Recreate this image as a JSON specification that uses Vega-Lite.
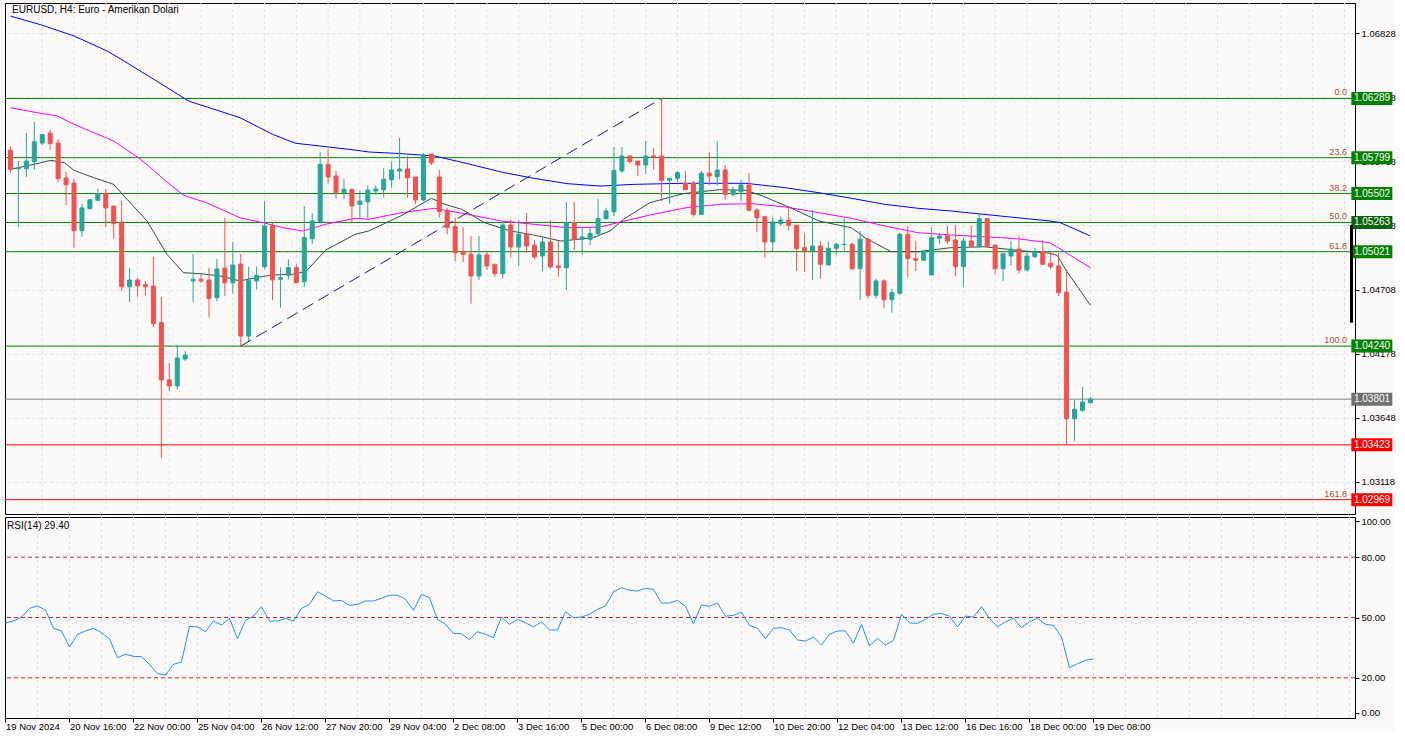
{
"$schema": "https://vega.github.io/schema/vega-lite/v6.json",
"background": "#fcf9f9",
"padding": {"left": 2, "top": 2, "right": 0, "bottom": 0},
"spacing": 0,
"config": {
 "font": "Liberation Sans",
 "view": {"stroke": "#000000", "strokeWidth": 1, "fill": "#fcf9f9"},
 "axis": {"labelFont": "Liberation Sans", "labelFontSize": 9.5, "labelColor": "#000000", "domainColor": "#000000", "tickColor": "#000000", "gridColor": "#e3dfe6", "gridDash": [3,3]}
},
"datasets": {
 "candles": [
{"i":0,"o":1.05860,"h":1.05896,"l":1.05672,"c":1.05703},
{"i":1,"o":1.05708,"h":1.05771,"l":1.05225,"c":1.05713},
{"i":2,"o":1.05708,"h":1.06003,"l":1.05639,"c":1.05771},
{"i":3,"o":1.05766,"h":1.06094,"l":1.05697,"c":1.05931},
{"i":4,"o":1.05920,"h":1.05997,"l":1.05901,"c":1.05989},
{"i":5,"o":1.06003,"h":1.06030,"l":1.05865,"c":1.05915},
{"i":6,"o":1.05920,"h":1.05953,"l":1.05592,"c":1.05625},
{"i":7,"o":1.05631,"h":1.05683,"l":1.05407,"c":1.05575},
{"i":8,"o":1.05589,"h":1.05620,"l":1.05054,"c":1.05195},
{"i":9,"o":1.05195,"h":1.05418,"l":1.05143,"c":1.05383},
{"i":10,"o":1.05377,"h":1.05459,"l":1.05372,"c":1.05451},
{"i":11,"o":1.05446,"h":1.05540,"l":1.05440,"c":1.05501},
{"i":12,"o":1.05501,"h":1.05540,"l":1.05228,"c":1.05383},
{"i":13,"o":1.05399,"h":1.05399,"l":1.05129,"c":1.05253},
{"i":14,"o":1.05261,"h":1.05440,"l":1.04696,"c":1.04731},
{"i":15,"o":1.04731,"h":1.04889,"l":1.04607,"c":1.04787},
{"i":16,"o":1.04787,"h":1.04806,"l":1.04649,"c":1.04737},
{"i":17,"o":1.04748,"h":1.04779,"l":1.04660,"c":1.04731},
{"i":18,"o":1.04737,"h":1.04980,"l":1.04398,"c":1.04425},
{"i":19,"o":1.04434,"h":1.04646,"l":1.03314,"c":1.03960},
{"i":20,"o":1.03960,"h":1.04100,"l":1.03868,"c":1.03910},
{"i":21,"o":1.03910,"h":1.04249,"l":1.03880,"c":1.04141},
{"i":22,"o":1.04133,"h":1.04199,"l":1.04117,"c":1.04166},
{"i":23,"o":1.04779,"h":1.05002,"l":1.04607,"c":1.04793},
{"i":24,"o":1.04793,"h":1.04836,"l":1.04762,"c":1.04779},
{"i":25,"o":1.04787,"h":1.04889,"l":1.04475,"c":1.04635},
{"i":26,"o":1.04640,"h":1.04961,"l":1.04613,"c":1.04878},
{"i":27,"o":1.04884,"h":1.05302,"l":1.04654,"c":1.04764},
{"i":28,"o":1.04764,"h":1.05101,"l":1.04673,"c":1.04911},
{"i":29,"o":1.04919,"h":1.05002,"l":1.04240,"c":1.04323},
{"i":30,"o":1.04323,"h":1.04897,"l":1.04282,"c":1.04784},
{"i":31,"o":1.04779,"h":1.04897,"l":1.04710,"c":1.04826},
{"i":32,"o":1.04897,"h":1.05440,"l":1.04875,"c":1.05234},
{"i":33,"o":1.05234,"h":1.05261,"l":1.04621,"c":1.04787},
{"i":34,"o":1.04793,"h":1.04889,"l":1.04558,"c":1.04806},
{"i":35,"o":1.04826,"h":1.04958,"l":1.04793,"c":1.04889},
{"i":36,"o":1.04889,"h":1.04917,"l":1.04764,"c":1.04764},
{"i":37,"o":1.04773,"h":1.05399,"l":1.04731,"c":1.05137},
{"i":38,"o":1.05129,"h":1.05339,"l":1.05082,"c":1.05275},
{"i":39,"o":1.05269,"h":1.05846,"l":1.05269,"c":1.05744},
{"i":40,"o":1.05744,"h":1.05873,"l":1.05584,"c":1.05639},
{"i":41,"o":1.05647,"h":1.05689,"l":1.05459,"c":1.05509},
{"i":42,"o":1.05509,"h":1.05620,"l":1.05454,"c":1.05537},
{"i":43,"o":1.05537,"h":1.05537,"l":1.05261,"c":1.05399},
{"i":44,"o":1.05413,"h":1.05523,"l":1.05294,"c":1.05440},
{"i":45,"o":1.05434,"h":1.05570,"l":1.05294,"c":1.05531},
{"i":46,"o":1.05523,"h":1.05570,"l":1.05490,"c":1.05540},
{"i":47,"o":1.05534,"h":1.05711,"l":1.05468,"c":1.05620},
{"i":48,"o":1.05616,"h":1.05766,"l":1.05550,"c":1.05697},
{"i":49,"o":1.05689,"h":1.05964,"l":1.05620,"c":1.05705},
{"i":50,"o":1.05705,"h":1.05813,"l":1.05468,"c":1.05633},
{"i":51,"o":1.05639,"h":1.05639,"l":1.05416,"c":1.05449},
{"i":52,"o":1.05449,"h":1.05838,"l":1.05440,"c":1.05819},
{"i":53,"o":1.05829,"h":1.05829,"l":1.05738,"c":1.05757},
{"i":54,"o":1.05639,"h":1.05697,"l":1.05302,"c":1.05352},
{"i":55,"o":1.05358,"h":1.05385,"l":1.05165,"c":1.05220},
{"i":56,"o":1.05228,"h":1.05302,"l":1.04944,"c":1.05013},
{"i":57,"o":1.05018,"h":1.05225,"l":1.04936,"c":1.04999},
{"i":58,"o":1.04999,"h":1.05151,"l":1.04591,"c":1.04820},
{"i":59,"o":1.04820,"h":1.05151,"l":1.04787,"c":1.04994},
{"i":60,"o":1.04994,"h":1.05025,"l":1.04870,"c":1.04903},
{"i":61,"o":1.04917,"h":1.04917,"l":1.04814,"c":1.04839},
{"i":62,"o":1.04839,"h":1.05269,"l":1.04798,"c":1.05242},
{"i":63,"o":1.05242,"h":1.05289,"l":1.04971,"c":1.05060},
{"i":64,"o":1.05060,"h":1.05283,"l":1.04903,"c":1.05165},
{"i":65,"o":1.05165,"h":1.05339,"l":1.05013,"c":1.05068},
{"i":66,"o":1.05074,"h":1.05115,"l":1.04958,"c":1.04977},
{"i":67,"o":1.04985,"h":1.05137,"l":1.04861,"c":1.05101},
{"i":68,"o":1.05101,"h":1.05283,"l":1.04884,"c":1.04894},
{"i":69,"o":1.04903,"h":1.05109,"l":1.04814,"c":1.04889},
{"i":70,"o":1.04889,"h":1.05432,"l":1.04704,"c":1.05261},
{"i":71,"o":1.05261,"h":1.05432,"l":1.05035,"c":1.05124},
{"i":72,"o":1.05124,"h":1.05219,"l":1.04994,"c":1.05143},
{"i":73,"o":1.05124,"h":1.05219,"l":1.05076,"c":1.05173},
{"i":74,"o":1.05170,"h":1.05459,"l":1.05159,"c":1.05297},
{"i":75,"o":1.05294,"h":1.05385,"l":1.05289,"c":1.05358},
{"i":76,"o":1.05352,"h":1.05887,"l":1.05316,"c":1.05694},
{"i":77,"o":1.05689,"h":1.05887,"l":1.05675,"c":1.05813},
{"i":78,"o":1.05813,"h":1.05813,"l":1.05749,"c":1.05766},
{"i":79,"o":1.05771,"h":1.05771,"l":1.05647,"c":1.05738},
{"i":80,"o":1.05738,"h":1.05937,"l":1.05666,"c":1.05813},
{"i":81,"o":1.05813,"h":1.05881,"l":1.05697,"c":1.05804},
{"i":82,"o":1.05813,"h":1.06289,"l":1.05440,"c":1.05612},
{"i":83,"o":1.05612,"h":1.05628,"l":1.05413,"c":1.05628},
{"i":84,"o":1.05628,"h":1.05689,"l":1.05600,"c":1.05675},
{"i":85,"o":1.05587,"h":1.05689,"l":1.05534,"c":1.05534},
{"i":86,"o":1.05587,"h":1.05606,"l":1.05311,"c":1.05330},
{"i":87,"o":1.05330,"h":1.05689,"l":1.05324,"c":1.05670},
{"i":88,"o":1.05670,"h":1.05846,"l":1.05570,"c":1.05647},
{"i":89,"o":1.05641,"h":1.05937,"l":1.05564,"c":1.05697},
{"i":90,"o":1.05697,"h":1.05738,"l":1.05454,"c":1.05496},
{"i":91,"o":1.05496,"h":1.05559,"l":1.05476,"c":1.05529},
{"i":92,"o":1.05517,"h":1.05614,"l":1.05440,"c":1.05573},
{"i":93,"o":1.05573,"h":1.05675,"l":1.05363,"c":1.05363},
{"i":94,"o":1.05366,"h":1.05380,"l":1.05186,"c":1.05302},
{"i":95,"o":1.05311,"h":1.05311,"l":1.04971,"c":1.05101},
{"i":96,"o":1.05101,"h":1.05311,"l":1.05027,"c":1.05267},
{"i":97,"o":1.05253,"h":1.05311,"l":1.05234,"c":1.05283},
{"i":98,"o":1.05283,"h":1.05393,"l":1.05198,"c":1.05240},
{"i":99,"o":1.05240,"h":1.05240,"l":1.04861,"c":1.05046},
{"i":100,"o":1.05054,"h":1.05173,"l":1.04853,"c":1.05027},
{"i":101,"o":1.05027,"h":1.05366,"l":1.04787,"c":1.05068},
{"i":102,"o":1.05068,"h":1.05109,"l":1.04798,"c":1.04917},
{"i":103,"o":1.04911,"h":1.05105,"l":1.04911,"c":1.05049},
{"i":104,"o":1.05049,"h":1.05095,"l":1.04994,"c":1.05082},
{"i":105,"o":1.05081,"h":1.05302,"l":1.05027,"c":1.05082},
{"i":106,"o":1.05082,"h":1.05095,"l":1.04870,"c":1.04880},
{"i":107,"o":1.04880,"h":1.05192,"l":1.04621,"c":1.05124},
{"i":108,"o":1.05124,"h":1.05137,"l":1.04635,"c":1.04660},
{"i":109,"o":1.04660,"h":1.04798,"l":1.04632,"c":1.04779},
{"i":110,"o":1.04779,"h":1.04793,"l":1.04553,"c":1.04624},
{"i":111,"o":1.04624,"h":1.04715,"l":1.04516,"c":1.04682},
{"i":112,"o":1.04677,"h":1.05178,"l":1.04663,"c":1.05165},
{"i":113,"o":1.05165,"h":1.05234,"l":1.04806,"c":1.04963},
{"i":114,"o":1.04963,"h":1.05109,"l":1.04861,"c":1.04950},
{"i":115,"o":1.04950,"h":1.05035,"l":1.04944,"c":1.05027},
{"i":116,"o":1.04828,"h":1.05225,"l":1.04828,"c":1.05137},
{"i":117,"o":1.05132,"h":1.05178,"l":1.05087,"c":1.05151},
{"i":118,"o":1.05151,"h":1.05234,"l":1.05087,"c":1.05109},
{"i":119,"o":1.05118,"h":1.05240,"l":1.04820,"c":1.04897},
{"i":120,"o":1.04897,"h":1.05137,"l":1.04731,"c":1.05109},
{"i":121,"o":1.05109,"h":1.05234,"l":1.05049,"c":1.05068},
{"i":122,"o":1.05062,"h":1.05339,"l":1.05062,"c":1.05294},
{"i":123,"o":1.05294,"h":1.05294,"l":1.05062,"c":1.05062},
{"i":124,"o":1.05076,"h":1.05076,"l":1.04839,"c":1.04880},
{"i":125,"o":1.04880,"h":1.05004,"l":1.04779,"c":1.05004},
{"i":126,"o":1.04985,"h":1.05109,"l":1.04903,"c":1.05043},
{"i":127,"o":1.05043,"h":1.05151,"l":1.04839,"c":1.04870},
{"i":128,"o":1.04870,"h":1.05027,"l":1.04856,"c":1.04985},
{"i":129,"o":1.04979,"h":1.05054,"l":1.04971,"c":1.05018},
{"i":130,"o":1.05018,"h":1.05118,"l":1.04911,"c":1.04917},
{"i":131,"o":1.04925,"h":1.05018,"l":1.04878,"c":1.04897},
{"i":132,"o":1.04903,"h":1.05013,"l":1.04654,"c":1.04682},
{"i":133,"o":1.04687,"h":1.04875,"l":1.03423,"c":1.03639},
{"i":134,"o":1.03639,"h":1.03794,"l":1.03455,"c":1.03717},
{"i":135,"o":1.03709,"h":1.03901,"l":1.03697,"c":1.03777},
{"i":136,"o":1.03771,"h":1.03819,"l":1.03766,"c":1.03801}
 ],
 "ma": [
{"s":"a","i":0,"v":1.06971},{"s":"a","i":3.9,"v":1.06897},{"s":"a","i":8,"v":1.06806},{"s":"a","i":12.2,"v":1.06681},{"s":"a","i":14.3,"v":1.06599},{"s":"a","i":18.4,"v":1.06433},{"s":"a","i":22.4,"v":1.06268},{"s":"a","i":28.9,"v":1.0613},{"s":"a","i":33,"v":1.05992},{"s":"a","i":35.9,"v":1.05918},{"s":"a","i":39.7,"v":1.0589},{"s":"a","i":43.4,"v":1.05862},{"s":"a","i":45.1,"v":1.05846},{"s":"a","i":49.3,"v":1.05832},{"s":"a","i":53.4,"v":1.05813},{"s":"a","i":57.6,"v":1.05749},{"s":"a","i":61.8,"v":1.0568},{"s":"a","i":65.9,"v":1.05628},{"s":"a","i":70.1,"v":1.05584},{"s":"a","i":74.3,"v":1.05564},{"s":"a","i":78.4,"v":1.05578},{"s":"a","i":84.7,"v":1.05587},{"s":"a","i":92.6,"v":1.05587},{"s":"a","i":97.6,"v":1.0555},{"s":"a","i":101.8,"v":1.05509},{"s":"a","i":105.9,"v":1.05463},{"s":"a","i":110.1,"v":1.05413},{"s":"a","i":114.3,"v":1.0538},{"s":"a","i":118.4,"v":1.05358},{"s":"a","i":122.6,"v":1.0533},{"s":"a","i":126.8,"v":1.05302},{"s":"a","i":130.9,"v":1.05275},{"s":"a","i":132.2,"v":1.05261},{"s":"a","i":136,"v":1.05151},
{"s":"b","i":0,"v":1.06212},{"s":"b","i":3.8,"v":1.06166},{"s":"b","i":5.9,"v":1.06144},{"s":"b","i":8,"v":1.06075},{"s":"b","i":10.5,"v":1.06006},{"s":"b","i":13,"v":1.05937},{"s":"b","i":16.4,"v":1.05785},{"s":"b","i":19.3,"v":1.0562},{"s":"b","i":21.8,"v":1.05488},{"s":"b","i":24.7,"v":1.05426},{"s":"b","i":28.9,"v":1.05302},{"s":"b","i":31.8,"v":1.05261},{"s":"b","i":34.3,"v":1.0522},{"s":"b","i":36.8,"v":1.05192},{"s":"b","i":39.7,"v":1.05248},{"s":"b","i":43.4,"v":1.05297},{"s":"b","i":45.1,"v":1.05289},{"s":"b","i":49.3,"v":1.05344},{"s":"b","i":53.4,"v":1.0538},{"s":"b","i":57.6,"v":1.0533},{"s":"b","i":61.8,"v":1.05275},{"s":"b","i":65.9,"v":1.05248},{"s":"b","i":70.1,"v":1.05219},{"s":"b","i":74.3,"v":1.05225},{"s":"b","i":76.8,"v":1.05267},{"s":"b","i":80.5,"v":1.05324},{"s":"b","i":85.1,"v":1.05385},{"s":"b","i":89.3,"v":1.05413},{"s":"b","i":93.4,"v":1.05418},{"s":"b","i":97.6,"v":1.05391},{"s":"b","i":101.8,"v":1.05344},{"s":"b","i":105.9,"v":1.05297},{"s":"b","i":110.1,"v":1.05234},{"s":"b","i":114.3,"v":1.05178},{"s":"b","i":118.4,"v":1.05159},{"s":"b","i":122.6,"v":1.05145},{"s":"b","i":126.8,"v":1.05128},{"s":"b","i":130.9,"v":1.05095},{"s":"b","i":132.6,"v":1.05027},{"s":"b","i":136,"v":1.04889},
{"s":"c","i":0,"v":1.05703},{"s":"c","i":3,"v":1.05744},{"s":"c","i":5.1,"v":1.05777},{"s":"c","i":6.8,"v":1.05757},{"s":"c","i":8,"v":1.05694},{"s":"c","i":10.5,"v":1.05633},{"s":"c","i":13,"v":1.05578},{"s":"c","i":14.3,"v":1.05482},{"s":"c","i":17.2,"v":1.05275},{"s":"c","i":19.7,"v":1.04999},{"s":"c","i":21.8,"v":1.04847},{"s":"c","i":23.9,"v":1.04839},{"s":"c","i":26.4,"v":1.0482},{"s":"c","i":28.9,"v":1.04779},{"s":"c","i":31.4,"v":1.04812},{"s":"c","i":33,"v":1.04828},{"s":"c","i":35.5,"v":1.04834},{"s":"c","i":37.2,"v":1.04856},{"s":"c","i":39.7,"v":1.05035},{"s":"c","i":40.9,"v":1.05076},{"s":"c","i":43.4,"v":1.05165},{"s":"c","i":45.1,"v":1.05192},{"s":"c","i":49.3,"v":1.05322},{"s":"c","i":53,"v":1.05463},{"s":"c","i":54.7,"v":1.05413},{"s":"c","i":56.8,"v":1.05372},{"s":"c","i":59.7,"v":1.05261},{"s":"c","i":63,"v":1.05192},{"s":"c","i":65.9,"v":1.05159},{"s":"c","i":69.3,"v":1.05109},{"s":"c","i":73.4,"v":1.05137},{"s":"c","i":75.5,"v":1.05192},{"s":"c","i":77.2,"v":1.05289},{"s":"c","i":80.5,"v":1.05426},{"s":"c","i":84.7,"v":1.05501},{"s":"c","i":89.3,"v":1.05534},{"s":"c","i":92.6,"v":1.05529},{"s":"c","i":94.7,"v":1.05482},{"s":"c","i":98.4,"v":1.0538},{"s":"c","i":101.8,"v":1.05275},{"s":"c","i":105.9,"v":1.05219},{"s":"c","i":107.6,"v":1.05137},{"s":"c","i":110.9,"v":1.05021},{"s":"c","i":114.3,"v":1.05021},{"s":"c","i":118.4,"v":1.05054},{"s":"c","i":122.6,"v":1.05062},{"s":"c","i":126.8,"v":1.05032},{"s":"c","i":130.9,"v":1.05008},{"s":"c","i":131.8,"v":1.04991},{"s":"c","i":133,"v":1.04861},{"s":"c","i":136,"v":1.04578}
 ],
 "fibline": [{"i":29,"p":1.0424},{"i":82,"p":1.06289}],
 "levels": [
  {"p":1.06289,"lvl":"0.0","k":"fib"},
  {"p":1.05799,"lvl":"23.6","k":"fib"},
  {"p":1.05502,"lvl":"38.2","k":"fib"},
  {"p":1.05263,"lvl":"50.0","k":"fib50"},
  {"p":1.05021,"lvl":"61.8","k":"fib"},
  {"p":1.0424,"lvl":"100.0","k":"fib"},
  {"p":1.02969,"lvl":"161.8","k":"red"},
  {"p":1.03423,"lvl":"","k":"red"},
  {"p":1.03801,"lvl":"","k":"price"}
 ],
 "vgrid": [{"i":4},{"i":8},{"i":12},{"i":16},{"i":20},{"i":24},{"i":28},{"i":32},{"i":36},{"i":40},{"i":44},{"i":48},{"i":52},{"i":56},{"i":60},{"i":64},{"i":68},{"i":72},{"i":76},{"i":80},{"i":84},{"i":88},{"i":92},{"i":96},{"i":100},{"i":104},{"i":108},{"i":112},{"i":116},{"i":120},{"i":124},{"i":128},{"i":132},{"i":136},{"i":140},{"i":144},{"i":148},{"i":152},{"i":156},{"i":160},{"i":164},{"i":168}],
 "rsi": [
{"i":0,"r":47.3},{"i":1,"r":48.25},{"i":2,"r":50.25},{"i":3,"r":54.52},{"i":4,"r":55.76},{"i":5,"r":53.76},{"i":6,"r":44.64},{"i":7,"r":43.31},{"i":8,"r":35.33},{"i":9,"r":41.6},{"i":10,"r":43.31},{"i":11,"r":44.64},{"i":12,"r":42.46},{"i":13,"r":39.42},{"i":14,"r":30.01},{"i":15,"r":31.72},{"i":16,"r":30.68},{"i":17,"r":30.49},{"i":18,"r":26.69},{"i":19,"r":22.03},{"i":20,"r":21.37},{"i":21,"r":26.69},{"i":22,"r":27.83},{"i":23,"r":45.59},{"i":24,"r":45.31},{"i":25,"r":42.93},{"i":26,"r":48.25},{"i":27,"r":46.26},{"i":28,"r":49.58},{"i":29,"r":39.42},{"i":30,"r":48.63},{"i":31,"r":50.63},{"i":32,"r":55.38},{"i":33,"r":48.25},{"i":34,"r":48.25},{"i":35,"r":49.58},{"i":36,"r":48.25},{"i":37,"r":54.52},{"i":38,"r":56.52},{"i":39,"r":62.79},{"i":40,"r":60.7},{"i":41,"r":58.23},{"i":42,"r":58.51},{"i":43,"r":56.04},{"i":44,"r":56.52},{"i":45,"r":58.23},{"i":46,"r":58.23},{"i":47,"r":59.56},{"i":48,"r":61.08},{"i":49,"r":61.08},{"i":50,"r":59.08},{"i":51,"r":53.57},{"i":52,"r":61.55},{"i":53,"r":59.84},{"i":54,"r":49.1},{"i":55,"r":46.64},{"i":56,"r":41.98},{"i":57,"r":41.98},{"i":58,"r":38.94},{"i":59,"r":42.93},{"i":60,"r":41.6},{"i":61,"r":39.99},{"i":62,"r":50.25},{"i":63,"r":46.64},{"i":64,"r":49.1},{"i":65,"r":47.4},{"i":66,"r":45.31},{"i":67,"r":47.87},{"i":68,"r":43.79},{"i":69,"r":43.79},{"i":70,"r":52.9},{"i":71,"r":49.87},{"i":72,"r":50.25},{"i":73,"r":51.58},{"i":74,"r":54.05},{"i":75,"r":55.76},{"i":76,"r":62.79},{"i":77,"r":64.78},{"i":78,"r":63.55},{"i":79,"r":63.17},{"i":80,"r":64.5},{"i":81,"r":64.02},{"i":82,"r":57.18},{"i":83,"r":57.18},{"i":84,"r":58.51},{"i":85,"r":55.57},{"i":86,"r":46.92},{"i":87,"r":56.23},{"i":88,"r":55.57},{"i":89,"r":57.18},{"i":90,"r":50.63},{"i":91,"r":51.1},{"i":92,"r":52.72},{"i":93,"r":46.07},{"i":94,"r":44.64},{"i":95,"r":39.42},{"i":96,"r":44.64},{"i":97,"r":44.93},{"i":98,"r":43.79},{"i":99,"r":38.85},{"i":100,"r":38.28},{"i":101,"r":40.27},{"i":102,"r":36.28},{"i":103,"r":41.6},{"i":104,"r":43.31},{"i":105,"r":43.31},{"i":106,"r":37.14},{"i":107,"r":46.64},{"i":108,"r":35.81},{"i":109,"r":39.61},{"i":110,"r":36.28},{"i":111,"r":38.56},{"i":112,"r":51.58},{"i":113,"r":47.3},{"i":114,"r":47.11},{"i":115,"r":49.1},{"i":116,"r":51.58},{"i":117,"r":52.05},{"i":118,"r":50.72},{"i":119,"r":45.31},{"i":120,"r":50.72},{"i":121,"r":50.25},{"i":122,"r":55.38},{"i":123,"r":49.58},{"i":124,"r":45.31},{"i":125,"r":47.87},{"i":126,"r":49.58},{"i":127,"r":44.93},{"i":128,"r":47.87},{"i":129,"r":49.58},{"i":130,"r":46.64},{"i":131,"r":46.07},{"i":132,"r":40.27},{"i":133,"r":25.07},{"i":134,"r":26.97},{"i":135,"r":28.68},{"i":136,"r":29.4}
 ],
 "rsilevels": [{"r":80},{"r":50},{"r":20}],
 "titles": [{"t":"EURUSD, H4:  Euro - Amerikan Dolari"}],
 "rsititle": [{"t":"RSI(14) 29.40"}]
},
"vconcat": [
{
 "width": 1350, "height": 511,
 "layer": [
  {"data": {"name": "vgrid"}, "mark": {"type": "rule", "color": "#e3dfe6", "strokeDash": [3,3]},
   "encoding": {"x": {"field": "i", "type": "quantitative", "title": null, "scale": {"domain": [-0.06, 168.69], "nice": false, "zero": false}, "axis": null}}},
  {"data": {"name": "levels"}, "mark": {"type": "rule", "strokeWidth": 1},
   "encoding": {
    "y": {"field": "p", "type": "quantitative", "title": null, "scale": {"domain": [1.028506, 1.070787], "nice": false, "zero": false},
      "axis": {"orient": "right", "title": null, "values": [1.03118,1.03383,1.03648,1.03913,1.04178,1.04443,1.04708,1.04973,1.05238,1.05503,1.05768,1.06033,1.06298,1.06563,1.06828], "format": ".5f", "grid": true, "tickSize": 4, "labelPadding": 2, "labelOverlap": false, "domain": true}},
    "stroke": {"field": "k", "type": "nominal", "legend": null, "scale": {"domain": ["fib","fib50","red","price"], "range": ["#008000","#008000","#ff0000","#808080"]}}}},
  {"data": {"name": "ma"}, "mark": {"type": "line", "strokeWidth": 1, "clip": true},
   "encoding": {
    "x": {"field": "i", "type": "quantitative", "title": null, "scale": {"domain": [-0.06, 168.69], "nice": false, "zero": false}, "axis": null},
    "y": {"field": "v", "type": "quantitative", "title": null},
    "color": {"field": "s", "type": "nominal", "legend": null, "scale": {"domain": ["a","b","c"], "range": ["#0000ff","#ff00ff","#2f4f4f"]}},
    "order": {"field": "i", "type": "quantitative"}}},
  {"data": {"name": "fibline"}, "mark": {"type": "line", "color": "#1c1c6c", "strokeWidth": 1, "strokeDash": [12,6]},
   "encoding": {
    "x": {"field": "i", "type": "quantitative", "title": null, "axis": null},
    "y": {"field": "p", "type": "quantitative", "title": null}}},
  {"data": {"name": "candles"}, "mark": {"type": "rule", "strokeWidth": 1, "clip": true},
   "encoding": {
    "x": {"field": "i", "type": "quantitative", "title": null, "axis": null},
    "y": {"field": "l", "type": "quantitative", "title": null},
    "y2": {"field": "h"},
    "stroke": {"condition": {"test": "datum.c >= datum.o", "value": "#26a69a"}, "value": "#ef5350"}}},
  {"data": {"name": "candles"}, "mark": {"type": "bar", "width": 4, "strokeWidth": 1, "clip": true, "opacity": 1},
   "encoding": {
    "x": {"field": "i", "type": "quantitative", "title": null, "axis": null},
    "y": {"field": "o", "type": "quantitative", "title": null},
    "y2": {"field": "c"},
    "fill": {"condition": {"test": "datum.c >= datum.o", "value": "#26a69a"}, "value": "#ef5350"},
    "stroke": {"condition": {"test": "datum.c >= datum.o", "value": "#26a69a"}, "value": "#ef5350"}}},
  {"data": {"name": "levels"}, "transform": [{"filter": "datum.lvl != ''"}],
   "mark": {"type": "text", "align": "right", "baseline": "alphabetic", "dy": -3, "fontSize": 9, "color": "#a0522d"},
   "encoding": {
    "x": {"datum": 168.3, "type": "quantitative", "axis": null},
    "y": {"field": "p", "type": "quantitative", "title": null},
    "text": {"field": "lvl"}}},
  {"data": {"name": "levels"}, "mark": {"type": "tick", "orient": "horizontal", "thickness": 13, "opacity": 1},
   "encoding": {
    "x": {"datum": 171.44, "type": "quantitative", "axis": null},
    "y": {"field": "p", "type": "quantitative", "title": null},
    "size": {"value": 41},
    "fill": {"field": "k", "type": "nominal", "legend": null, "scale": {"domain": ["fib","fib50","red","price"], "range": ["#008000","#0b640b","#ff0000","#707070"]}}}},
  {"data": {"name": "levels"}, "mark": {"type": "text", "align": "left", "baseline": "middle", "fontSize": 10, "color": "#ffffff"},
   "encoding": {
    "x": {"datum": 169.19, "type": "quantitative", "axis": null},
    "y": {"field": "p", "type": "quantitative", "title": null},
    "text": {"field": "p", "type": "quantitative", "format": ".5f"}}},
  {"data": {"values": [{"a": 1.05242, "b": 1.04434}]}, "mark": {"type": "rule", "strokeWidth": 3, "color": "#000000"},
   "encoding": {
    "x": {"datum": 168.88, "type": "quantitative", "axis": null},
    "y": {"field": "a", "type": "quantitative", "title": null},
    "y2": {"field": "b"}}},
  {"data": {"name": "titles"}, "mark": {"type": "text", "align": "left", "baseline": "middle", "fontSize": 10, "color": "#000000"},
   "encoding": {
    "x": {"datum": 0.2, "type": "quantitative", "axis": null},
    "y": {"datum": 1.07021, "type": "quantitative"},
    "text": {"field": "t"}}}
 ]
},
{
 "width": 1350, "height": 201,
 "layer": [
  {"data": {"name": "vgrid"}, "mark": {"type": "rule", "color": "#e3dfe6", "strokeDash": [3,3]},
   "encoding": {"x": {"field": "i", "type": "quantitative", "title": null, "scale": {"domain": [-0.06, 168.69], "nice": false, "zero": false}}}},
  {"data": {"name": "rsilevels"}, "mark": {"type": "rule", "color": "#c0272d", "strokeDash": [4,3], "strokeWidth": 1},
   "encoding": {
    "y": {"field": "r", "type": "quantitative", "title": null, "scale": {"domain": [0, 100], "nice": false, "zero": false},
      "axis": {"orient": "right", "title": null, "values": [2.7,20,50,80,97.9], "labelExpr": "datum.value > 90 ? '100.00' : (datum.value < 10 ? '0.00' : format(datum.value, '.2f'))", "grid": false, "tickSize": 4, "labelPadding": 2, "labelOverlap": false}}}},
  {"data": {"name": "rsi"}, "mark": {"type": "line", "color": "#1e90ff", "strokeWidth": 1},
   "encoding": {
    "x": {"field": "i", "type": "quantitative", "title": null,
      "axis": {"title": null, "values": [0,8,16,24,32,40,48,56,64,72,80,88,96,104,112,120,128,136], "labelExpr": "['19 Nov 2024','20 Nov 16:00','22 Nov 00:00','25 Nov 04:00','26 Nov 12:00','27 Nov 20:00','29 Nov 04:00','2 Dec 08:00','3 Dec 16:00','5 Dec 00:00','6 Dec 08:00','9 Dec 12:00','10 Dec 20:00','12 Dec 04:00','13 Dec 12:00','16 Dec 16:00','18 Dec 00:00','19 Dec 08:00'][round(datum.value/8)]", "labelAlign": "left", "labelBaseline": "top", "labelPadding": -1, "tickSize": 4, "grid": false, "labelOverlap": false, "labelFlush": false, "labelBound": false}},
    "y": {"field": "r", "type": "quantitative", "title": null}}},
  {"data": {"name": "rsititle"}, "mark": {"type": "text", "align": "left", "baseline": "middle", "fontSize": 10, "color": "#000000"},
   "encoding": {
    "x": {"datum": 0.2, "type": "quantitative"},
    "y": {"datum": 95.5, "type": "quantitative"},
    "text": {"field": "t"}}}
 ]
}
]
}
